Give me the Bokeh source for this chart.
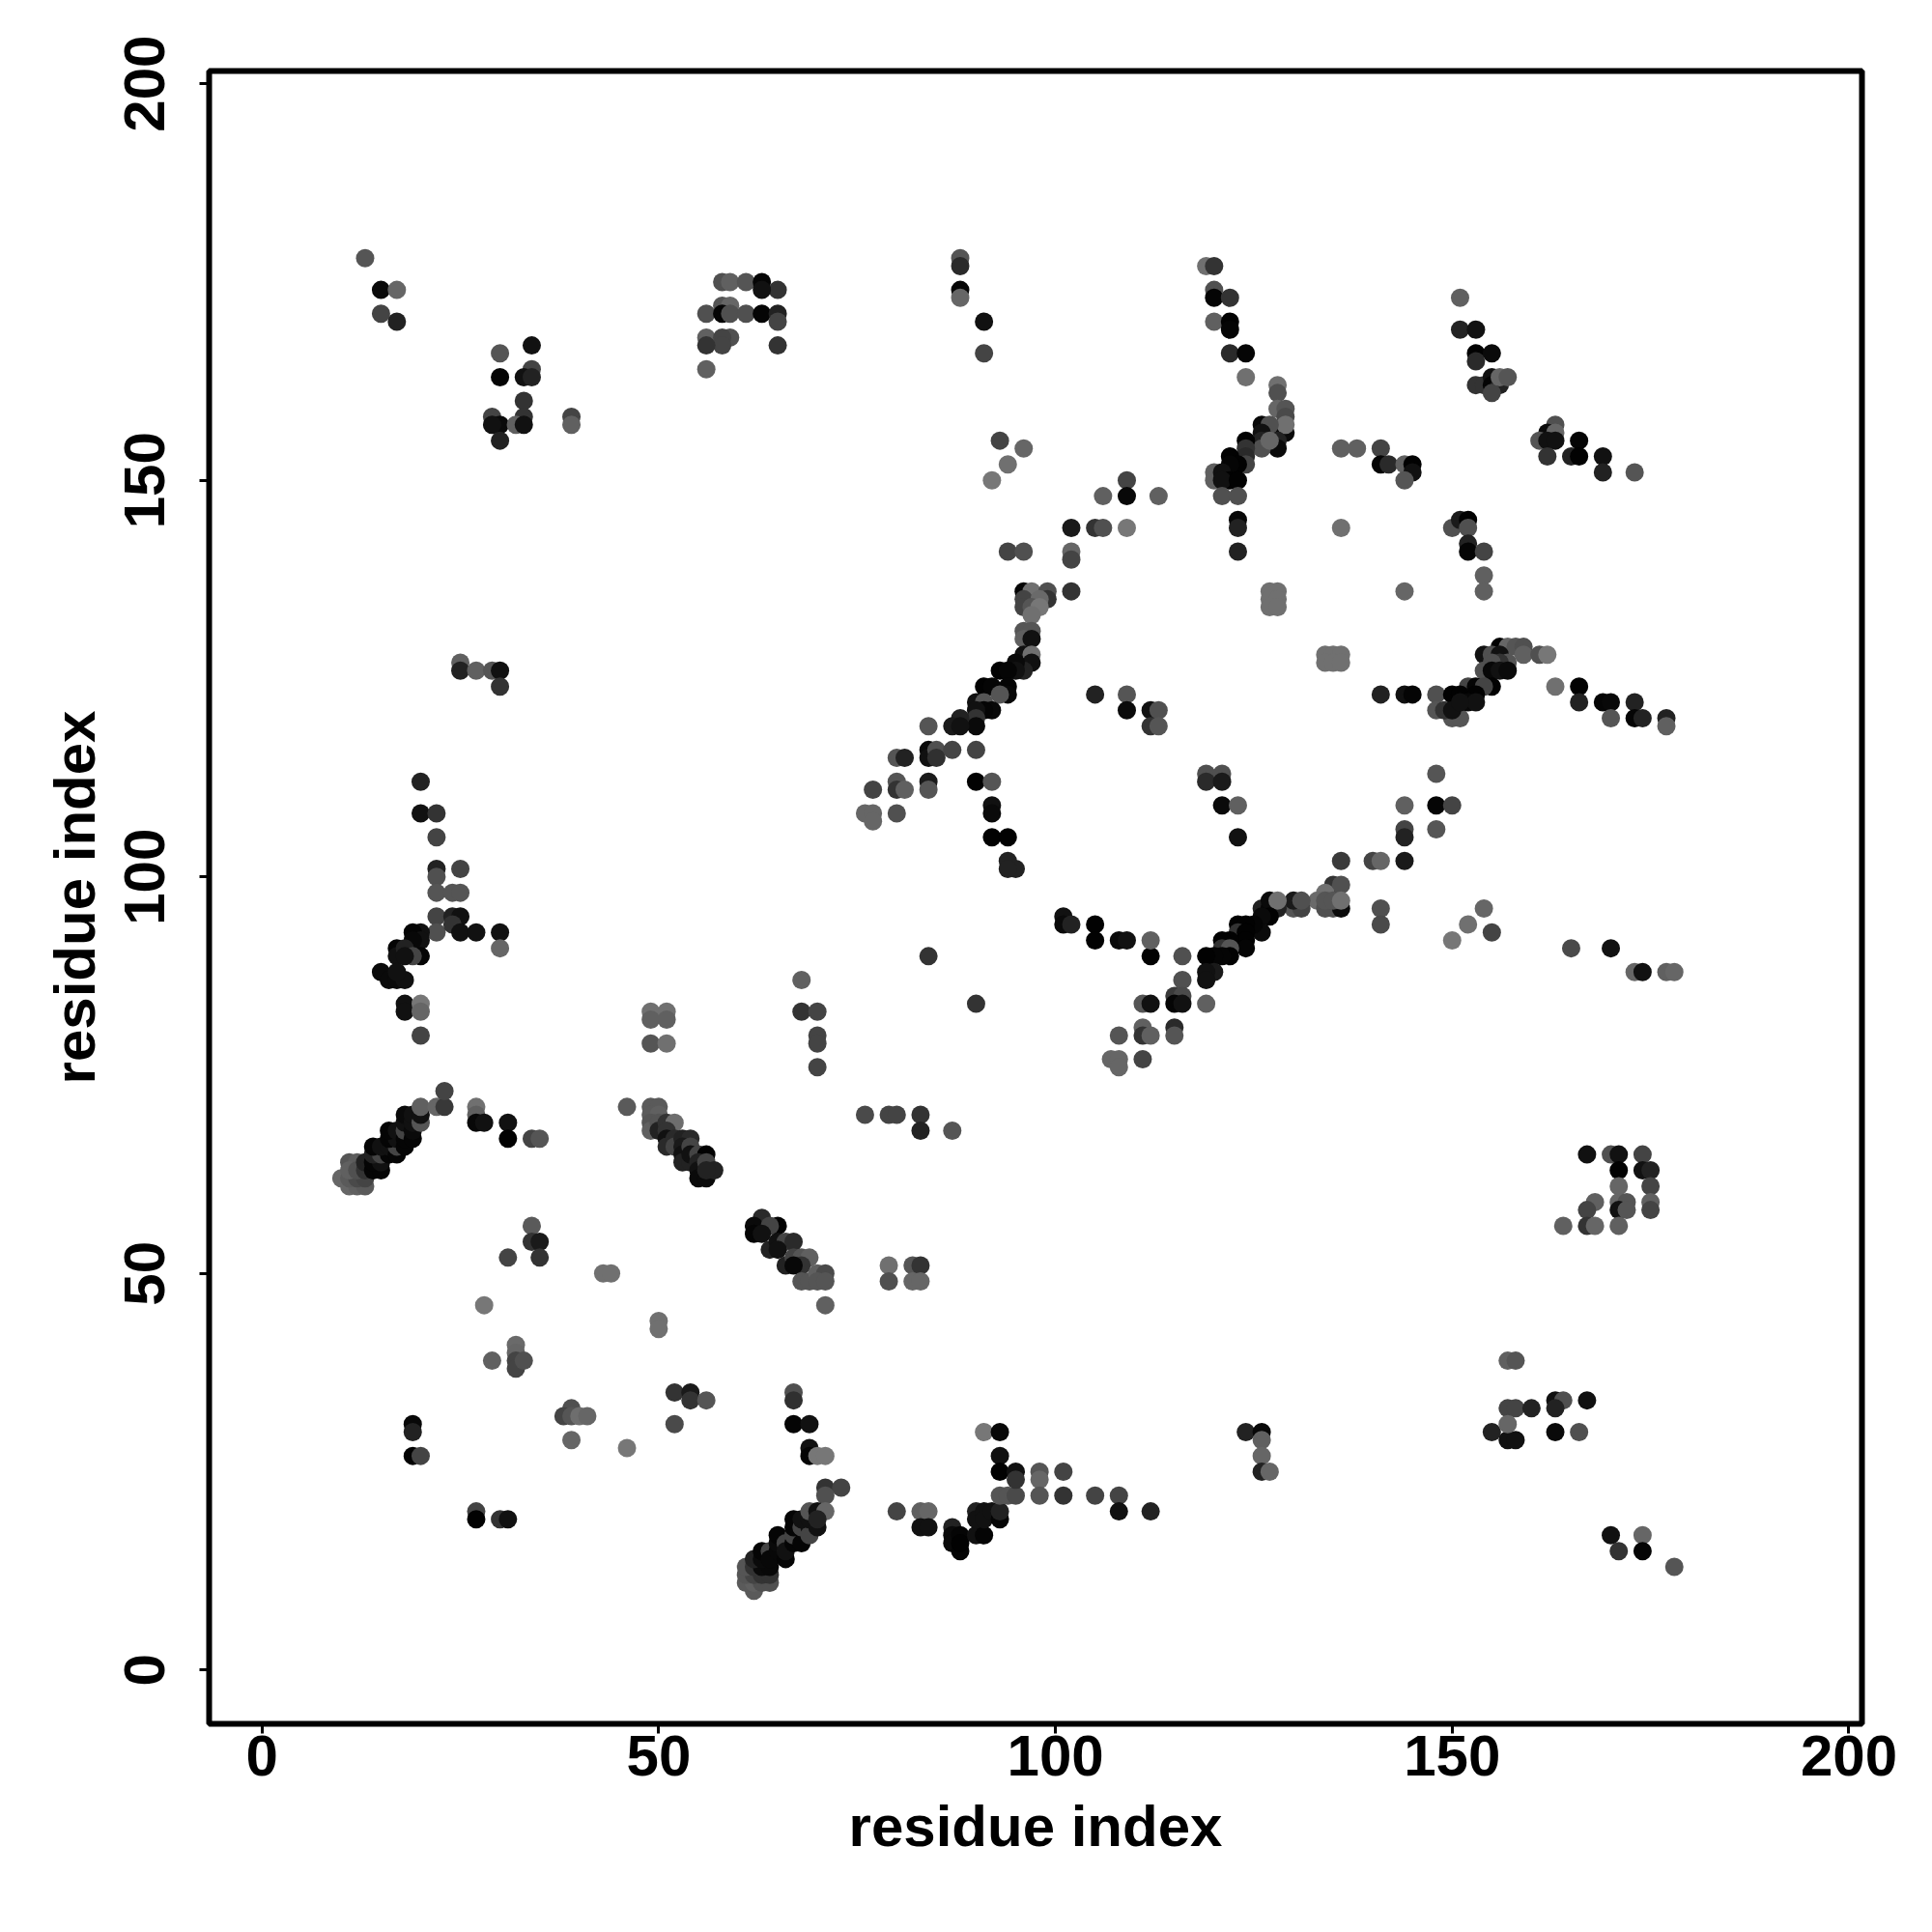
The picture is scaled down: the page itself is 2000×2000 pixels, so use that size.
from bokeh.plotting import figure
from bokeh.models import ColumnDataSource, Range1d, FixedTicker
from bokeh.embed import file_html
from bokeh.resources import INLINE

# Each entry: residue i, residue j, contact level (grey level, 0 = strongest)
tick_values = [0, 50, 100, 150, 200]
axis_title = "residue index"

helix_a = [(10,62,0x66),(11,61,0x66),(12,61,0x60),(13,61,0x5a),(11,62,0x5a),(12,62,0x4a),(13,62,0x44),(11,64,0x55),(12,64,0x5c),(11,63,0x60),(12,63,0x50),(13,63,0x33),(13,64,0x22),
(14,63,0x05),(15,63,0x05),(14,64,0x05),(15,64,0x11),(14,65,0x22),(15,65,0x44),(16,65,0x05),(14,66,0x05),(15,66,0x11),(16,66,0x11),(17,65,0x05),(17,66,0x44),(16,67,0x05),(17,67,0x11),(16,68,0x05),(17,68,0x11),(18,66,0x05),(18,67,0x05),(18,68,0x44),(18,69,0x11),(18,70,0x0a),(19,67,0x05),(19,68,0x0a),(19,69,0x11),(19,70,0x11),(20,69,0x55),(20,70,0x11),(20,71,0x60),
(22,71,0x66),(23,71,0x38),(23,73,0x44),(27,71,0x70),(27,70,0x60),(27,69,0x08),(28,69,0x11),(31,69,0x11),(31,67,0x02),(34,67,0x44),(35,67,0x55)]

helix_b = [(46,71,0x5a),(49,71,0x5a),(50,71,0x5a),(49,70,0x5a),(50,70,0x60),(49,69,0x55),(49,68,0x60),(50,69,0x55),(50,68,0x22),(51,69,0x33),(52,69,0x6e),(51,68,0x33),(51,67,0x11),(51,66,0x2a),(52,67,0x2a),(52,66,0x44),(53,67,0x22),(54,67,0x2a),(53,66,0x1a),(53,65,0x11),(54,66,0x44),(53,64,0x22),(54,64,0x22),(54,65,0x11),(55,65,0x44),(56,65,0x02),(55,64,0x22),(55,63,0x11),(55,62,0x0a),(56,62,0x0a),(56,64,0x44),(57,63,0x22),(56,63,0x22)]

helix_c = [(63,57,0x2a),(62,56,0x0a),(65,56,0x02),(64,56,0x44),(62,55,0x05),(63,55,0x11),(64,53,0x22),(65,54,0x11),(66,54,0x44),(67,54,0x2a),(65,53,0x11),(66,51,0x22),(67,52,0x44),(68,52,0x55),(69,52,0x60),(68,51,0x33),(67,51,0x08),(68,49,0x55),(69,49,0x55),(70,50,0x60),(71,50,0x4a),(70,49,0x55),(71,49,0x55),(71,46,0x60)]

low_left = [(34,56,0x5a),(34,54,0x33),(35,54,0x1a),(31,52,0x44),(35,52,0x33),(43,50,0x70),(44,50,0x70),(28,46,0x77),(50,44,0x70),(50,43,0x70),(29,39,0x60),(32,41,0x6a),(32,40,0x66),(32,39,0x44),(32,38,0x44),(33,39,0x50),
(52,35,0x33),(54,35,0x1a),(54,34,0x33),(56,34,0x55),(52,31,0x4a),(67,35,0x50),(67,34,0x30),(67,31,0x05),(69,31,0x11),(69,28,0x11),(69,27,0x05),(70,27,0x77),(71,27,0x77),
(19,31,0x08),(19,30,0x22),(19,27,0x02),(20,27,0x44),(39,33,0x50),(38,32,0x44),(39,32,0x55),(40,32,0x6e),(41,32,0x66),(39,29,0x66),(46,28,0x77),(27,20,0x44),(27,19,0x02),(30,19,0x33),(31,19,0x11),(71,23,0x33),(73,23,0x44),(71,22,0x50)]

helix_d = [(62,10,0x5a),(61,11,0x5a),(62,11,0x60),(63,11,0x50),(64,11,0x50),(61,12,0x55),(62,12,0x44),(63,12,0x33),(64,12,0x33),(61,13,0x55),(62,13,0x33),(63,13,0x0a),(64,13,0x08),(62,14,0x22),(63,14,0x0a),(63,15,0x05),(64,15,0x44),(64,14,0x08),(65,15,0x08),(66,14,0x05),(65,16,0x0a),(65,17,0x05),(66,16,0x44),(66,15,0x11),(67,16,0x05),(67,17,0x44),(67,18,0x05),(67,19,0x05),(68,16,0x05),(68,18,0x44),(69,18,0x11),(69,17,0x44),(68,19,0x11),(69,19,0x11),(70,18,0x11),(69,20,0x55),(70,20,0x11),(71,20,0x66),(70,19,0x22)]

low_mid = [(80,20,0x44),(83,20,0x60),(84,20,0x66),(83,18,0x11),(84,18,0x11),(87,18,0x22),(87,17,0x0a),(87,16,0x0a),(88,17,0x05),(88,15,0x05),(88,16,0x02),(90,17,0x11),(91,17,0x05),(90,20,0x22),(90,19,0x11),(91,20,0x11),(91,19,0x11),(92,20,0x11),(93,19,0x05),(93,20,0x22),(93,22,0x55),(94,22,0x55),(95,22,0x4a),(98,25,0x55),(98,24,0x66),(98,22,0x55),(101,25,0x44),(101,22,0x33),(105,22,0x44),(108,22,0x44),(108,20,0x11),(112,20,0x22),
(91,30,0x77),(93,30,0x08),(93,27,0x11),(93,25,0x02),(95,25,0x11),(95,24,0x33),(124,30,0x22),(126,30,0x08),(126,29,0x60),(126,27,0x66),(126,25,0x22),(127,25,0x66)]

low_right = [(155,30,0x22),(157,29,0x11),(158,29,0x11),(157,39,0x60),(158,39,0x55),(157,33,0x44),(158,33,0x44),(160,33,0x22),(157,31,0x66),(163,34,0x11),(164,34,0x50),(163,33,0x22),(167,34,0x11),(163,30,0x0a),(166,30,0x50),(170,17,0x11),(174,17,0x66),(171,15,0x33),(174,15,0x05),(178,13,0x55),
(167,65,0x11),(170,65,0x50),(171,65,0x11),(174,65,0x44),(171,63,0x02),(174,63,0x11),(175,63,0x22),(175,61,0x44),(171,61,0x66),(168,59,0x60),(171,59,0x66),(172,59,0x55),(175,59,0x60),(167,58,0x44),(171,58,0x11),(172,58,0x55),(175,58,0x44),(167,56,0x33),(168,56,0x66),(171,56,0x60),(164,56,0x60)]

helix_e = [(136,102,0x3a),(140,102,0x44),(141,102,0x66),(144,102,0x1a),(135,99,0x33),(136,99,0x50),(134,98,0x70),(133,97,0x6a),(134,96,0x50),(135,96,0x50),(136,96,0x0a),(134,97,0x55),(135,97,0x55),(136,97,0x70),
(130,96,0x55),(131,96,0x44),(130,97,0x1a),(131,97,0x50),(126,96,0x22),(127,96,0x05),(128,96,0x22),(127,97,0x0a),(128,97,0x70),(127,95,0x02),(126,95,0x0a),(126,93,0x0a),(125,94,0x05),(123,94,0x02),(124,94,0x02),(123,93,0x33),(124,93,0x02),(124,92,0x02),(124,91,0x05),(122,92,0x02),(121,92,0x02),(121,91,0x33),(122,91,0x55),(122,90,0x02),(121,90,0x05),(120,90,0x05),(119,90,0x02),(120,88,0x1a),(119,88,0x11),(119,87,0x11),
(116,90,0x50),(116,87,0x50),(115,85,0x3a),(116,85,0x4a),(115,84,0x05),(116,84,0x11),(119,84,0x60),(112,90,0x02),(112,92,0x60),(111,84,0x55),(112,84,0x11),(108,80,0x55),(111,81,0x60),(111,80,0x33),(112,80,0x60),(115,81,0x2a),(115,80,0x55),(107,77,0x66),(108,77,0x66),(108,76,0x66),(111,77,0x44),
(101,95,0x11),(101,94,0x0a),(102,94,0x22),(105,94,0x02),(105,92,0x02),(108,92,0x0a),(109,92,0x11)]

right_mid = [(141,96,0x50),(141,94,0x4a),(154,96,0x66),(152,94,0x70),(155,93,0x44),(150,92,0x77),(165,91,0x4a),(170,91,0x11),(173,88,0x66),(174,88,0x11),(177,88,0x60),(178,88,0x66),
(144,109,0x60),(144,106,0x44),(144,105,0x22),(148,113,0x55),(148,109,0x05),(150,109,0x44),(148,106,0x55)]

helix_f = [(93,155,0x44),(96,154,0x66),(94,152,0x70),(92,150,0x77),(109,150,0x44),(106,148,0x60),(109,148,0x08),(113,148,0x60),(102,144,0x1a),(105,144,0x33),(106,144,0x50),(109,144,0x77),(94,141,0x44),(96,141,0x50),(102,141,0x66),(102,140,0x44),(102,136,0x33),
(96,136,0x05),(97,136,0x70),(96,135,0x44),(96,134,0x44),(99,136,0x50),(99,135,0x33),(98,135,0x6a),(97,134,0x55),(98,134,0x77),(97,133,0x70),(96,131,0x55),(97,131,0x55),(96,130,0x60),(97,130,0x11),(96,128,0x11),(97,128,0x70),(97,127,0x11),(96,126,0x22),(95,127,0x0a),(95,126,0x11),(93,126,0x02),(94,126,0x05),(94,124,0x05),(91,124,0x02),(92,124,0x05),(94,123,0x08),(93,123,0x55),(90,122,0x11),(91,122,0x55),(92,121,0x08),(91,121,0x05),(90,121,0x11),(90,120,0x33),(90,119,0x0a),(88,120,0x22),(87,119,0x1a),(88,119,0x11),(84,119,0x55),
(84,116,0x0a),(84,115,0x11),(85,116,0x50),(85,115,0x30),(87,116,0x44),(90,116,0x44),(80,115,0x55),(81,115,0x22),(84,112,0x1a),(84,111,0x55),(90,112,0x02),(92,112,0x55),(80,112,0x55),(80,111,0x33),(81,111,0x60),(77,111,0x44),(80,108,0x50),(76,108,0x66),(77,108,0x66),(77,107,0x66),(92,109,0x11),(92,108,0x0a),(92,105,0x02),(94,105,0x02),(94,102,0x22),(95,101,0x22),(94,101,0x22),
(105,123,0x22),(109,123,0x55),(109,121,0x0a),(112,121,0x11),(113,121,0x50),(112,119,0x33),(113,119,0x55),(119,113,0x50),(121,113,0x50),(119,112,0x2a),(121,112,0x1a),(121,109,0x0a),(123,109,0x60),(123,105,0x11)]

square_pair = [(127,136,0x70),(128,136,0x70),(127,135,0x70),(128,135,0x70),(127,134,0x70),(128,134,0x70),(134,128,0x70),(135,128,0x70),(136,128,0x70),(134,127,0x70),(135,127,0x70),(136,127,0x70),(136,144,0x70),(144,136,0x66)]

top_right = [(119,177,0x70),(120,177,0x33),(120,174,0x50),(120,173,0x05),(122,173,0x33),(120,170,0x60),(122,170,0x02),(122,169,0x05),(122,166,0x2a),(124,166,0x05),(124,163,0x70),
(128,162,0x70),(128,161,0x50),(128,159,0x66),(129,159,0x55),(129,158,0x4a),(128,156,0x05),(129,156,0x0a),(129,157,0x70),(128,155,0x22),(128,154,0x0a),(126,157,0x08),(127,157,0x50),(126,156,0x11),(126,155,0x22),(126,154,0x50),(127,155,0x66),(124,155,0x02),(124,154,0x33),(124,153,0x2a),(122,153,0x02),(124,152,0x44),(123,152,0x02),(122,152,0x05),(120,151,0x60),(120,150,0x60),(121,151,0x11),(122,150,0x02),(121,150,0x11),(123,150,0x02),(121,148,0x50),(123,148,0x50),(123,145,0x08),(123,144,0x22),(123,141,0x22),
(136,154,0x60),(138,154,0x60),(141,154,0x44),(141,152,0x05),(142,152,0x2a),(144,152,0x60),(145,152,0x02),(145,151,0x11),(144,150,0x55),
(151,173,0x60),(151,169,0x22),(153,169,0x11),(153,166,0x02),(155,166,0x0a),(153,165,0x2a),(153,162,0x33),(154,162,0x33),(155,163,0x11),(155,162,0x05),(156,162,0x22),(155,161,0x44),(156,163,0x66),(157,163,0x55),
(163,157,0x50),(162,156,0x0a),(163,156,0x66),(161,155,0x55),(162,155,0x11),(163,155,0x11),(162,153,0x33),(166,155,0x05),(165,153,0x22),(166,153,0x02),(169,153,0x11),(169,151,0x22),(173,151,0x55),
(150,144,0x50),(151,145,0x1a),(152,145,0x02),(152,144,0x50),(152,142,0x22),(152,141,0x05),(154,141,0x44),(154,138,0x60),(154,136,0x60)]

helix_g = [(154,128,0x11),(156,129,0x02),(157,129,0x66),(158,129,0x55),(159,129,0x50),(159,128,0x60),(161,128,0x50),(162,128,0x77),(155,128,0x50),(156,128,0x11),(157,127,0x55),(156,127,0x33),(155,127,0x50),(154,126,0x50),(155,126,0x08),(156,126,0x11),(157,126,0x0a),(155,124,0x02),(163,124,0x70),(166,124,0x02),(152,124,0x44),(153,124,0x05),(154,124,0x44),(166,122,0x22),(141,123,0x22),(144,123,0x11),(145,123,0x05),(148,123,0x50),(148,121,0x55),(150,120,0x55),(151,120,0x55),(149,121,0x33),(150,123,0x02),(151,123,0x02),(153,123,0x02),(150,121,0x11),(152,122,0x08),(153,122,0x11),(151,122,0x11),(169,122,0x05),(170,122,0x08),(173,122,0x22),(170,120,0x55),(173,120,0x05),(174,120,0x22),(177,120,0x22),(177,119,0x60)]

top_left = [(13,178,0x55),(15,174,0x0a),(17,174,0x66),(15,171,0x44),(17,170,0x22),(30,166,0x55),(34,167,0x11),(34,164,0x44),(33,163,0x11),(34,163,0x22),(30,163,0x05),(33,160,0x33),(29,158,0x44),(33,158,0x33),(30,157,0x0a),(29,157,0x11),(32,157,0x60),(33,157,0x11),(30,155,0x22),(39,158,0x44),(39,157,0x60),
(56,171,0x50),(58,175,0x50),(59,175,0x60),(61,175,0x55),(63,175,0x05),(65,174,0x33),(63,174,0x11),(58,172,0x55),(59,172,0x66),(58,171,0x05),(59,171,0x50),(61,171,0x50),(63,171,0x05),(65,171,0x22),(65,170,0x44),(56,168,0x60),(59,168,0x50),(58,168,0x44),(58,167,0x44),(56,167,0x33),(65,167,0x33),(56,164,0x60),
(88,178,0x55),(88,177,0x2a),(88,174,0x05),(88,173,0x66),(91,170,0x11),(91,166,0x44)]

left_mid = [(20,112,0x22),(20,108,0x11),(22,108,0x33),(22,105,0x44),(22,101,0x22),(22,100,0x50),(25,101,0x44),(22,98,0x55),(24,98,0x55),(25,98,0x55),(22,95,0x44),(24,95,0x22),(25,95,0x11),(22,93,0x50),(24,94,0x33),(25,93,0x11),(27,93,0x11),(30,93,0x11),(30,91,0x66),
(20,93,0x11),(19,93,0x05),(20,92,0x11),(20,90,0x05),(19,92,0x08),(17,91,0x05),(17,90,0x11),(18,91,0x22),(19,90,0x44),(18,90,0x11),(15,88,0x0a),(16,87,0x0a),(17,87,0x0a),(18,87,0x11),(17,88,0x11),(18,84,0x11),(18,83,0x11),(20,84,0x77),(20,83,0x66),(20,80,0x44),
(25,127,0x60),(25,126,0x22),(27,126,0x60),(29,126,0x55),(30,126,0x11),(30,124,0x33)]

centre = [(49,83,0x70),(51,83,0x70),(49,82,0x60),(51,82,0x60),(49,79,0x55),(51,79,0x70),(68,87,0x60),(68,83,0x33),(70,83,0x44),(70,80,0x44),(70,79,0x44),(70,76,0x44),(76,70,0x4a),(79,70,0x44),(80,70,0x44),(83,70,0x33),(83,68,0x22),(87,68,0x55),(84,90,0x33),(90,84,0x33),(79,51,0x70),(79,49,0x50),(82,51,0x55),(83,51,0x33),(82,49,0x66),(83,49,0x66)]

groups = [helix_a, helix_b, helix_c, low_left, helix_d, low_mid, low_right, helix_e, right_mid, helix_f, square_pair, top_right, helix_g, top_left, left_mid, centre]
pts = [c for g in groups for c in g]
src = ColumnDataSource(dict(x=[c[0] for c in pts], y=[c[1] for c in pts],
                            color=["#%02x%02x%02x" % (c[2], c[2], c[2]) for c in pts]))

FONT = "Liberation Sans"
p = figure(width=1985, height=1975, output_backend="svg", toolbar_location=None,
           x_range=Range1d(-6.66, 201.65), y_range=Range1d(-6.78, 201.6),
           frame_width=1711, frame_height=1711,
           min_border_left=216, min_border_top=73, min_border_right=40, min_border_bottom=100)
p.scatter("x", "y", source=src, size=19, color="color", line_color=None)
p.grid.visible = False
p.outline_line_color = "black"
p.outline_line_width = 6
p.background_fill_color = "white"

for ax in (p.xaxis[0], p.yaxis[0]):
    ax.ticker = FixedTicker(ticks=tick_values)
    ax.axis_line_color = None
    ax.minor_tick_line_color = None
    ax.major_tick_in = 0
    ax.major_tick_out = 10
    ax.major_tick_line_width = 3
    ax.major_tick_line_color = "black"
    ax.major_label_text_font = FONT
    ax.major_label_text_font_style = "bold"
    ax.major_label_text_font_size = "60px"
    ax.major_label_text_color = "black"
    ax.axis_label = axis_title
    ax.axis_label_text_font = FONT
    ax.axis_label_text_font_style = "bold"
    ax.axis_label_text_font_size = "60px"
    ax.axis_label_text_color = "black"
p.yaxis[0].major_label_orientation = "vertical"
p.xaxis[0].major_label_standoff = 2
p.yaxis[0].major_label_standoff = 36
p.xaxis[0].axis_label_standoff = 16
p.yaxis[0].axis_label_standoff = 16

open("out.html", "w").write(file_html(p, INLINE))
